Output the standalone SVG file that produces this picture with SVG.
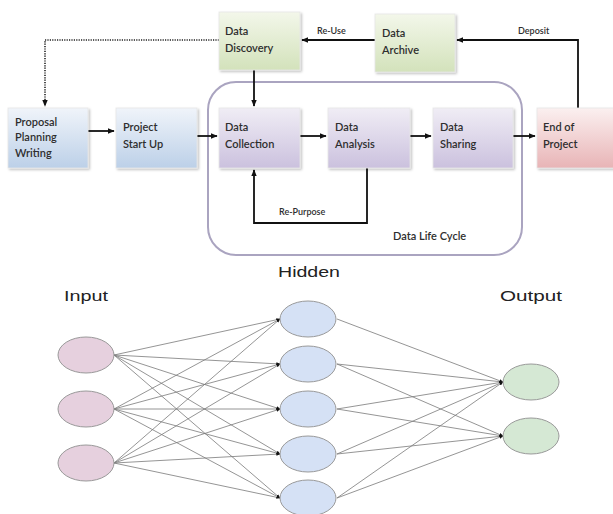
<svg xmlns="http://www.w3.org/2000/svg" width="613" height="514" viewBox="0 0 613 514">
<defs>
<linearGradient id="gGreen" x1="0" y1="0" x2="0" y2="1"><stop offset="0" stop-color="#f3f7ea"/><stop offset="1" stop-color="#d3e2bb"/></linearGradient>
<linearGradient id="gBlue" x1="0" y1="0" x2="0" y2="1"><stop offset="0" stop-color="#f0f4fa"/><stop offset="1" stop-color="#bcd0e8"/></linearGradient>
<linearGradient id="gPurple" x1="0" y1="0" x2="0" y2="1"><stop offset="0" stop-color="#f0edf5"/><stop offset="1" stop-color="#cbc1de"/></linearGradient>
<linearGradient id="gPink" x1="0" y1="0" x2="0" y2="1"><stop offset="0" stop-color="#fbf0f0"/><stop offset="1" stop-color="#e8b4b6"/></linearGradient>
<filter id="sh" x="-10%" y="-10%" width="130%" height="130%"><feDropShadow dx="1.5" dy="1.5" stdDeviation="1.2" flood-color="#000" flood-opacity="0.25"/></filter>
<marker id="ah" viewBox="0 0 10 10" refX="9" refY="5" markerWidth="7" markerHeight="7" orient="auto" markerUnits="userSpaceOnUse"><path d="M0,1 L10,5 L0,9 z" fill="#111"/></marker>
<marker id="nh" viewBox="0 0 10 10" refX="9" refY="5" markerWidth="4" markerHeight="4" orient="auto" markerUnits="userSpaceOnUse"><path d="M0,1 L10,5 L0,9 z" fill="#111"/></marker>
</defs>
<style>
.box{filter:url(#sh);stroke:#e6e6e6;stroke-width:0.8}
.t{font-family:Lato,"DejaVu Sans",sans-serif;font-size:11px;fill:#2e2e2e;font-weight:600}
.s{font-family:Lato,"DejaVu Sans",sans-serif;font-size:9px;fill:#2e2e2e;font-weight:600}
.c{fill:none;stroke:#111;stroke-width:1.8;marker-end:url(#ah)}
.n{fill:none;stroke:#7a7a7a;stroke-width:0.8;marker-end:url(#nh)}
.lbl{font-family:"Liberation Sans",Arial,sans-serif;font-size:14px;fill:#222}
.e{stroke:#9a9a9a;stroke-width:1}
</style>
<rect width="613" height="514" fill="#ffffff"/>

<g id="lifecycle">
<rect x="208" y="82" width="314" height="173" rx="28" fill="none" stroke="#aaa4c0" stroke-width="2"/>
<text class="t" x="393" y="240" font-size="10">Data Life Cycle</text>
</g>

<g id="connectors">
<path d="M219,40 H45 V106" fill="none" stroke="#222" stroke-width="1.6" stroke-dasharray="1.2,1.2" marker-end="url(#ah)"/>
<path class="c" d="M254,70 V106"/>
<path class="c" d="M375,40 H302"/>
<path class="c" d="M578,108 V40 H457"/>
<path class="c" d="M88,131 H114"/>
<path class="c" d="M197,136 H217"/>
<path class="c" d="M300,136 H326"/>
<path class="c" d="M410,136 H431"/>
<path class="c" d="M513,136 H535"/>
<path class="c" d="M367,168 V223 H254 V170"/>
<text class="s" x="317" y="34">Re-Use</text>
<text class="s" x="518" y="34">Deposit</text>
<text class="s" x="279" y="215">Re-Purpose</text>
</g>

<g id="discovery"><rect class="box" x="219" y="12" width="81" height="58" fill="url(#gGreen)"/><text class="t" x="225" y="35">Data</text><text class="t" x="225" y="52">Discovery</text></g>
<g id="archive"><rect class="box" x="375" y="14" width="80" height="58" fill="url(#gGreen)"/><text class="t" x="382" y="37">Data</text><text class="t" x="382" y="54">Archive</text></g>
<g id="proposal"><rect class="box" x="8" y="108" width="80" height="60" fill="url(#gBlue)"/><text class="t" x="15" y="126">Proposal</text><text class="t" x="15" y="141">Planning</text><text class="t" x="15" y="157">Writing</text></g>
<g id="startup"><rect class="box" x="116" y="108" width="81" height="60" fill="url(#gBlue)"/><text class="t" x="123" y="131">Project</text><text class="t" x="123" y="148">Start Up</text></g>
<g id="collection"><rect class="box" x="219" y="108" width="81" height="60" fill="url(#gPurple)"/><text class="t" x="225" y="131">Data</text><text class="t" x="225" y="148">Collection</text></g>
<g id="analysis"><rect class="box" x="328" y="108" width="82" height="60" fill="url(#gPurple)"/><text class="t" x="335" y="131">Data</text><text class="t" x="335" y="148">Analysis</text></g>
<g id="sharing"><rect class="box" x="433" y="108" width="80" height="60" fill="url(#gPurple)"/><text class="t" x="440" y="131">Data</text><text class="t" x="440" y="148">Sharing</text></g>
<g id="end"><rect class="box" x="537" y="108" width="84" height="60" fill="url(#gPink)"/><text class="t" x="543" y="131">End of</text><text class="t" x="543" y="148">Project</text></g>

<g id="nn-labels">
<text class="lbl" x="64" y="301" textLength="44" lengthAdjust="spacingAndGlyphs">Input</text>
<text class="lbl" x="278" y="277" textLength="62" lengthAdjust="spacingAndGlyphs">Hidden</text>
<text class="lbl" x="500" y="301" textLength="62" lengthAdjust="spacingAndGlyphs">Output</text>
</g>

<g id="nn-connectors">
<path class="n" d="M114,355 L280,319"/><path class="n" d="M114,355 L280,364"/><path class="n" d="M114,355 L280,409"/><path class="n" d="M114,355 L280,454"/><path class="n" d="M114,355 L280,498"/>
<path class="n" d="M114,409 L280,319"/><path class="n" d="M114,409 L280,364"/><path class="n" d="M114,409 L280,409"/><path class="n" d="M114,409 L280,454"/><path class="n" d="M114,409 L280,498"/>
<path class="n" d="M114,463 L280,319"/><path class="n" d="M114,463 L280,364"/><path class="n" d="M114,463 L280,409"/><path class="n" d="M114,463 L280,454"/><path class="n" d="M114,463 L280,498"/>
<path class="n" d="M337,319 L503,382"/><path class="n" d="M337,364 L503,382"/><path class="n" d="M337,409 L503,382"/><path class="n" d="M337,454 L503,382"/><path class="n" d="M337,498 L503,382"/>
<path class="n" d="M337,364 L503,436"/><path class="n" d="M337,409 L503,436"/><path class="n" d="M337,454 L503,436"/><path class="n" d="M337,498 L503,436"/>
</g>

<g id="in1"><ellipse class="e" cx="86" cy="355" rx="28" ry="18" fill="#e6d0de"/></g>
<g id="in2"><ellipse class="e" cx="86" cy="409" rx="28" ry="18" fill="#e6d0de"/></g>
<g id="in3"><ellipse class="e" cx="86" cy="463" rx="28" ry="18" fill="#e6d0de"/></g>
<g id="h1"><ellipse class="e" cx="308" cy="319" rx="28" ry="18" fill="#d5e1f5"/></g>
<g id="h2"><ellipse class="e" cx="308" cy="364" rx="28" ry="18" fill="#d5e1f5"/></g>
<g id="h3"><ellipse class="e" cx="308" cy="409" rx="28" ry="18" fill="#d5e1f5"/></g>
<g id="h4"><ellipse class="e" cx="308" cy="454" rx="28" ry="18" fill="#d5e1f5"/></g>
<g id="h5"><ellipse class="e" cx="308" cy="498" rx="28" ry="18" fill="#d5e1f5"/></g>
<g id="o1"><ellipse class="e" cx="531" cy="382" rx="28" ry="18" fill="#d5e8d4"/></g>
<g id="o2"><ellipse class="e" cx="531" cy="436" rx="28" ry="18" fill="#d5e8d4"/></g>
</svg>
